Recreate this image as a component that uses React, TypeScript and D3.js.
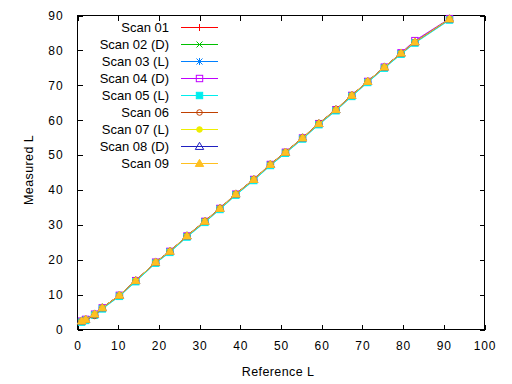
import React, { useRef, useEffect } from 'react';
import * as d3 from 'd3';

// Reference L of the step wedge patches (shared by all scans)
const referenceL = [1.0, 2.0, 4.2, 6.1, 10.3, 14.3, 19.2, 22.7, 26.9, 31.3, 35.0, 38.9, 43.3, 47.4, 51.1, 55.3, 59.3, 63.5, 67.4, 71.3, 75.4, 79.5, 82.9, 91.4];

const scan01 = [2.4, 2.9, 4.3, 6.2, 9.8, 14.0, 19.3, 22.4, 26.8, 31.0, 34.7, 38.8, 43.0, 47.3, 50.8, 54.9, 59.0, 63.0, 67.1, 71.1, 75.2, 79.2, 82.4, 89.0];
const scan02 = [2.4, 2.9, 4.4, 6.2, 9.8, 14.0, 19.3, 22.4, 26.8, 31.0, 34.7, 38.8, 43.0, 47.3, 50.8, 54.9, 59.0, 63.0, 67.1, 71.1, 75.2, 79.2, 82.4, 89.0];
const scan03 = [2.3, 2.8, 4.3, 6.1, 9.7, 13.9, 19.2, 22.3, 26.7, 30.9, 34.6, 38.7, 42.9, 47.2, 50.7, 54.8, 58.9, 62.9, 67.0, 71.0, 75.1, 79.1, 82.4, 89.0];
const scan04 = [2.4, 2.9, 4.4, 6.2, 9.8, 14.0, 19.3, 22.4, 26.8, 31.0, 34.7, 38.8, 43.0, 47.3, 50.8, 54.9, 59.0, 63.0, 67.1, 71.1, 75.2, 79.3, 82.8, 89.1];
const scan05 = [2.1, 2.6, 4.1, 5.9, 9.5, 13.7, 19.0, 22.1, 26.5, 30.7, 34.4, 38.5, 42.7, 47.0, 50.5, 54.6, 58.7, 62.7, 66.8, 70.8, 74.9, 78.9, 82.1, 88.7];
const scan06 = [2.4, 2.8, 3.9, 6.2, 9.8, 14.0, 19.3, 22.4, 26.9, 31.1, 34.8, 38.9, 43.1, 47.4, 50.9, 55.0, 59.1, 63.1, 67.2, 71.1, 75.2, 79.2, 82.4, 89.0];
const scan07 = [2.4, 2.9, 4.4, 6.2, 9.8, 14.0, 19.3, 22.4, 26.8, 31.0, 34.7, 38.8, 43.0, 47.3, 50.8, 54.9, 59.0, 63.0, 67.1, 71.1, 75.2, 79.2, 82.4, 89.0];
const scan08 = [2.4, 2.9, 4.4, 6.2, 9.8, 14.0, 19.3, 22.4, 26.8, 31.0, 34.7, 38.8, 43.0, 47.3, 50.8, 54.9, 59.0, 63.0, 67.1, 71.1, 75.2, 79.2, 82.4, 89.0];
const scan09 = [2.4, 2.9, 4.4, 6.2, 9.8, 14.0, 19.3, 22.4, 26.8, 31.0, 34.7, 38.8, 43.0, 47.3, 50.8, 54.9, 59.0, 63.0, 67.1, 71.1, 75.2, 79.2, 82.4, 89.0];

const seriesNames = ['Scan 01', 'Scan 02 (D)', 'Scan 03 (L)', 'Scan 04 (D)', 'Scan 05 (L)', 'Scan 06', 'Scan 07 (L)', 'Scan 08 (D)', 'Scan 09'];
const seriesValues = [scan01, scan02, scan03, scan04, scan05, scan06, scan07, scan08, scan09];
const seriesColors = ['#ff0000', '#00c000', '#0080ff', '#c000ff', '#00eeee', '#c04000', '#eeee00', '#2020c0', '#ffc020'];

const xTicks = [0, 10, 20, 30, 40, 50, 60, 70, 80, 90, 100];
const yTicks = [0, 10, 20, 30, 40, 50, 60, 70, 80, 90];

const FONT = '"Liberation Sans", Arial, sans-serif';

// gnuplot point types 1..9
function drawPoint(g, type, cx, cy, color) {
  const s = 3.5;
  if (type === 0 || type === 2) {
    g.append('path').attr('d', `M${cx - s},${cy}H${cx + s}M${cx},${cy - s}V${cy + s}`)
      .attr('stroke', color).attr('fill', 'none');
  }
  if (type === 1 || type === 2) {
    g.append('path').attr('d', `M${cx - s + 0.5},${cy - s + 0.5}L${cx + s - 0.5},${cy + s - 0.5}M${cx - s + 0.5},${cy + s - 0.5}L${cx + s - 0.5},${cy - s + 0.5}`)
      .attr('stroke', color).attr('fill', 'none');
  }
  if (type === 3 || type === 4) {
    g.append('rect').attr('x', cx - 3.2).attr('y', cy - 3.2).attr('width', 6.4).attr('height', 6.4)
      .attr('stroke', color).attr('fill', type === 4 ? color : 'none');
  }
  if (type === 5 || type === 6) {
    g.append('circle').attr('cx', cx).attr('cy', cy).attr('r', 2.8)
      .attr('stroke', color).attr('fill', type === 6 ? color : 'none');
  }
  if (type === 7 || type === 8) {
    const t = 4.2;
    g.append('path').attr('d', `M${cx},${cy - t}L${cx + t},${cy + t * 0.7}L${cx - t},${cy + t * 0.7}Z`)
      .attr('stroke', color).attr('fill', type === 8 ? color : 'none');
  }
}

const App = () => {
  const svgRef = useRef(null);

  useEffect(() => {
    const svg = d3.select(svgRef.current);
    svg.selectAll('*').remove();

    const x = d3.scaleLinear().domain([0, 100]).range([77.5, 484.5]);
    const y = d3.scaleLinear().domain([0, 90]).range([329.5, 15.5]);

    // axes with inward ticks, mirrored on top and right
    const styleAxis = (a) => {
      a.select('.domain').remove();
      a.selectAll('line').attr('stroke', '#000').attr('shape-rendering', 'crispEdges');
      a.selectAll('text').attr('fill', '#000').style('font-family', FONT)
        .style('font-size', '12px').style('letter-spacing', '0.9px');
    };

    svg.append('g').attr('transform', 'translate(0,329.5)')
      .call(d3.axisBottom(x).tickValues(xTicks).tickSize(-5).tickPadding(12))
      .call(styleAxis);
    svg.append('g').attr('transform', 'translate(0,15.5)')
      .call(d3.axisTop(x).tickValues(xTicks).tickSize(-5).tickFormat(() => ''))
      .call(styleAxis);
    svg.append('g').attr('transform', 'translate(77.5,0)')
      .call(d3.axisLeft(y).tickValues(yTicks).tickSize(-5).tickPadding(14))
      .call(styleAxis);
    svg.append('g').attr('transform', 'translate(484.5,0)')
      .call(d3.axisRight(y).tickValues(yTicks).tickSize(-5).tickFormat(() => ''))
      .call(styleAxis);

    svg.append('rect')
      .attr('x', 77.5).attr('y', 15.5)
      .attr('width', 407).attr('height', 314)
      .attr('fill', 'none').attr('stroke', '#000')
      .attr('shape-rendering', 'crispEdges');

    svg.append('text')
      .attr('x', 278).attr('y', 376)
      .attr('text-anchor', 'middle')
      .style('font-family', FONT).style('font-size', '12.5px')
      .style('letter-spacing', '0.4px')
      .text('Reference L');

    svg.append('text')
      .attr('transform', 'translate(33,170) rotate(-90)')
      .attr('text-anchor', 'middle')
      .style('font-family', FONT).style('font-size', '12.5px')
      .style('letter-spacing', '0.4px')
      .text('Measured L');

    const line = d3.line()
      .x((d, i) => x(referenceL[i]))
      .y(d => y(d));

    seriesValues.forEach((vals, k) => {
      const color = seriesColors[k];
      const g = svg.append('g').attr('stroke-width', 1);
      g.append('path')
        .attr('d', line(vals))
        .attr('stroke', color)
        .attr('fill', 'none');
      vals.forEach((v, i) => drawPoint(g, k, x(referenceL[i]), y(v), color));
    });

    // legend
    const legend = svg.append('g');
    seriesNames.forEach((name, k) => {
      const ly = 27.5 + k * 17;
      legend.append('text')
        .attr('x', 169).attr('y', ly).attr('dy', '0.36em')
        .attr('text-anchor', 'end')
        .style('font-family', FONT).style('font-size', '13px')
        .text(name);
      legend.append('line')
        .attr('x1', 181).attr('x2', 218).attr('y1', ly).attr('y2', ly)
        .attr('stroke', seriesColors[k])
        .attr('shape-rendering', 'crispEdges');
      drawPoint(legend, k, 199.5, ly, seriesColors[k]);
    });
  }, []);

  return (
    <svg
      ref={svgRef}
      width={512}
      height={384}
      viewBox="0 0 512 384"
      style={{ position: 'absolute', left: 0, top: 0, background: '#fff' }}
    ></svg>
  );
};

export default App;
